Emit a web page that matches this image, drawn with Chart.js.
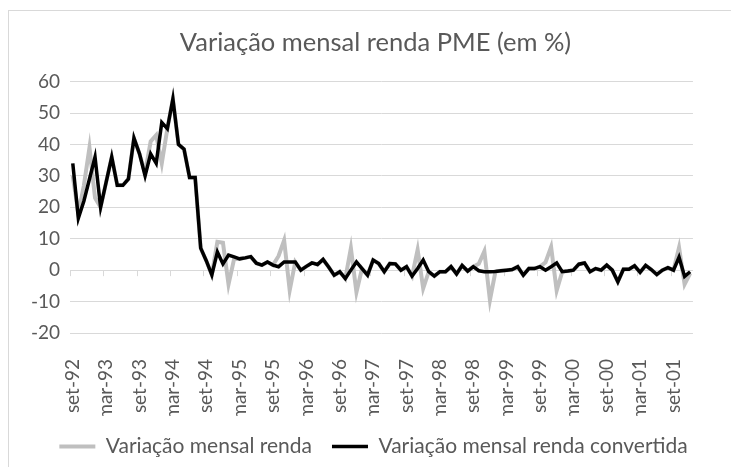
<!DOCTYPE html>
<html>
<head>
<meta charset="utf-8">
<script src="https://cdn.jsdelivr.net/npm/chart.js@4"></script>
<style>
  html, body { margin: 0; padding: 0; background: #fff; }
  #wrap { position: relative; width: 731px; height: 467px; overflow: hidden; }
  #frame { position: absolute; left: 8px; top: 10px; width: 800px; height: 500px; border: 1px solid #d9d9d9; }
  canvas { position: absolute; left: 0; top: 0; }
</style>
</head>
<body>
<div id="wrap">
  <div id="frame"></div>
  <canvas id="rendaChart" width="731" height="467"></canvas>
</div>
<script>
// months from set-92 to dez-01
const monthNames = ["jan", "fev", "mar", "abr", "mai", "jun", "jul", "ago", "set", "out", "nov", "dez"];
const firstMonth = 8;
const firstYear = 1992;
const monthCount = 112;

const yTicks = [-20, -10, 0, 10, 20, 30, 40, 50, 60];

// "Variação mensal renda" (gray)
const rendaMensal = [
  30, 18, 27, 39, 23, 20, 28, 36, 27, 27, 29, 42,
  37, 31, 41, 43, 34, 45, 54.5, 40, 38.5, 29.5, 29.5, 7,
  3, -1.5, 9, 8.7, -4.5, 3.5, 3.6, 3.9, 4.3, 2.2, 1.6, 2.6,
  1.6, 4.5, 9.5, -6.4, 2.6, 0, 1.2, 2.3, 1.8, 3.4, 1.0, -1.6,
  -0.5, -2.7, 7, -7, 0.5, -1.6, 3.2, 2.1, -0.5, 2.1, 2, 0,
  1.1, -1.9, 6.5, -5.8, -0.5, -1.9, -0.5, -0.5, 1.1, -1.2, 1.5, -0.3,
  1.1, 2, 6, -9.5, -0.4, -0.2, 0, 0.2, 1.1, -1.6, 0.5, 0.5,
  1.1, 2.5, 7.4, -6.5, -0.5, -0.3, 0, 1.9, 2.3, -0.5, 0.5, 0,
  1.6, 0, -3.7, 0.3, 0.3, 1.4, -0.7, 1.5, 0.2, -1.4, 0, 0.8,
  0, 7.2, -4.5, -1
];

// "Variação mensal renda convertida" (black)
const rendaConvertida = [
  34, 16.5, 22, 29, 36, 20, 28, 36, 27, 27, 29, 42,
  37, 30, 37, 34, 47, 45, 54.5, 40, 38.5, 29.5, 29.5, 7,
  3, -1.5, 5.8, 2, 4.8, 4.2, 3.6, 3.9, 4.3, 2.2, 1.6, 2.6,
  1.6, 1.1, 2.6, 2.6, 2.6, 0, 1.2, 2.3, 1.8, 3.4, 1.0, -1.6,
  -0.5, -2.7, 0, 2.6, 0.5, -1.6, 3.2, 2.1, -0.5, 2.1, 2, 0,
  1.1, -1.9, 0.5, 3.2, -0.5, -1.9, -0.5, -0.5, 1.1, -1.2, 1.5, -0.3,
  1.1, -0.2, -0.5, -0.5, -0.4, -0.2, 0, 0.2, 1.1, -1.6, 0.5, 0.5,
  1.1, 0, 1.1, 2.3, -0.5, -0.3, 0, 1.9, 2.3, -0.5, 0.5, 0,
  1.6, 0, -3.7, 0.3, 0.3, 1.4, -0.7, 1.5, 0.2, -1.4, 0, 0.8,
  0, 4.1, -2, -0.5
];

const labels = [];
for (let i = 0; i < monthCount; i++) {
  const m = (firstMonth + i) % 12;
  const y = firstYear + Math.floor((firstMonth + i) / 12);
  labels.push(monthNames[m] + "-" + String(y).slice(2));
}

const textColor = "#595959";
const gridColor = "#d9d9d9";
const fontFamily = "Lato";

// short tick marks on the zero line, every 6 months
const zeroAxisTicks = {
  id: "zeroAxisTicks",
  beforeDatasetsDraw(chart) {
    const x = chart.scales.x;
    const y0 = chart.scales.y.getPixelForValue(0);
    const step = x.getPixelForValue(1) - x.getPixelForValue(0);
    const ctx = chart.ctx;
    ctx.save();
    ctx.strokeStyle = gridColor;
    ctx.lineWidth = 1;
    ctx.beginPath();
    for (let i = 0; i < labels.length; i += 6) {
      const px = Math.round(x.getPixelForValue(i) - step / 2) + 0.5;
      ctx.moveTo(px, y0);
      ctx.lineTo(px, y0 + 6);
    }
    ctx.stroke();
    ctx.restore();
  }
};

// title and legend sit a bit right of the canvas centre in the original
const boxShift = {
  id: "boxShift",
  afterLayout(chart) {
    chart.legend.left += 12;
    chart.legend.right += 12;
    chart.titleBlock.left += 14;
    chart.titleBlock.right += 14;
  }
};

const ctx = document.getElementById("rendaChart").getContext("2d");

new Chart(ctx, {
  type: "line",
  data: {
    labels: labels,
    datasets: [
      {
        label: "Variação mensal renda convertida",
        data: rendaConvertida,
        borderColor: "#000000",
        backgroundColor: "#000000",
        borderWidth: 3.5,
        pointRadius: 0,
        tension: 0,
        fill: false
      },
      {
        label: "Variação mensal renda",
        data: rendaMensal,
        borderColor: "#bfbfbf",
        backgroundColor: "#bfbfbf",
        borderWidth: 4,
        pointRadius: 0,
        tension: 0,
        fill: false
      }
    ]
  },
  options: {
    responsive: false,
    animation: false,
    devicePixelRatio: 1,
    layout: {
      padding: { left: 0, right: 8, top: 0, bottom: 0 }
    },
    plugins: {
      title: {
        display: true,
        text: "Variação mensal renda PME (em %)",
        color: textColor,
        font: { family: fontFamily, size: 25.5, weight: "normal" },
        padding: { top: 27, bottom: 24 }
      },
      legend: {
        position: "bottom",
        labels: {
          color: textColor,
          font: { family: fontFamily, size: 21 },
          usePointStyle: true,
          pointStyle: "line",
          pointStyleWidth: 36,
          padding: 20,
          sort: (a, b) => b.datasetIndex - a.datasetIndex
        }
      },
      tooltip: { enabled: false }
    },
    scales: {
      x: {
        type: "category",
        offset: true,
        grid: { display: false },
        border: { display: false },
        ticks: {
          autoSkip: false,
          maxRotation: 90,
          minRotation: 90,
          padding: 18,
          color: textColor,
          font: { family: fontFamily, size: 19 },
          callback: function(value, index) {
            return index % 6 === 0 ? labels[index] : "";
          }
        },
        afterFit: function(scale) {
          scale.height = 83;
        }
      },
      y: {
        min: yTicks[0],
        max: yTicks[yTicks.length - 1],
        grid: { color: gridColor, lineWidth: 1, drawTicks: false },
        border: { display: false },
        ticks: {
          stepSize: 10,
          padding: 10,
          color: textColor,
          font: { family: fontFamily, size: 19 }
        },
        afterFit: function(scale) {
          scale.width = 70;
        }
      }
    }
  },
  plugins: [zeroAxisTicks, boxShift]
});
</script>
</body>
</html>
